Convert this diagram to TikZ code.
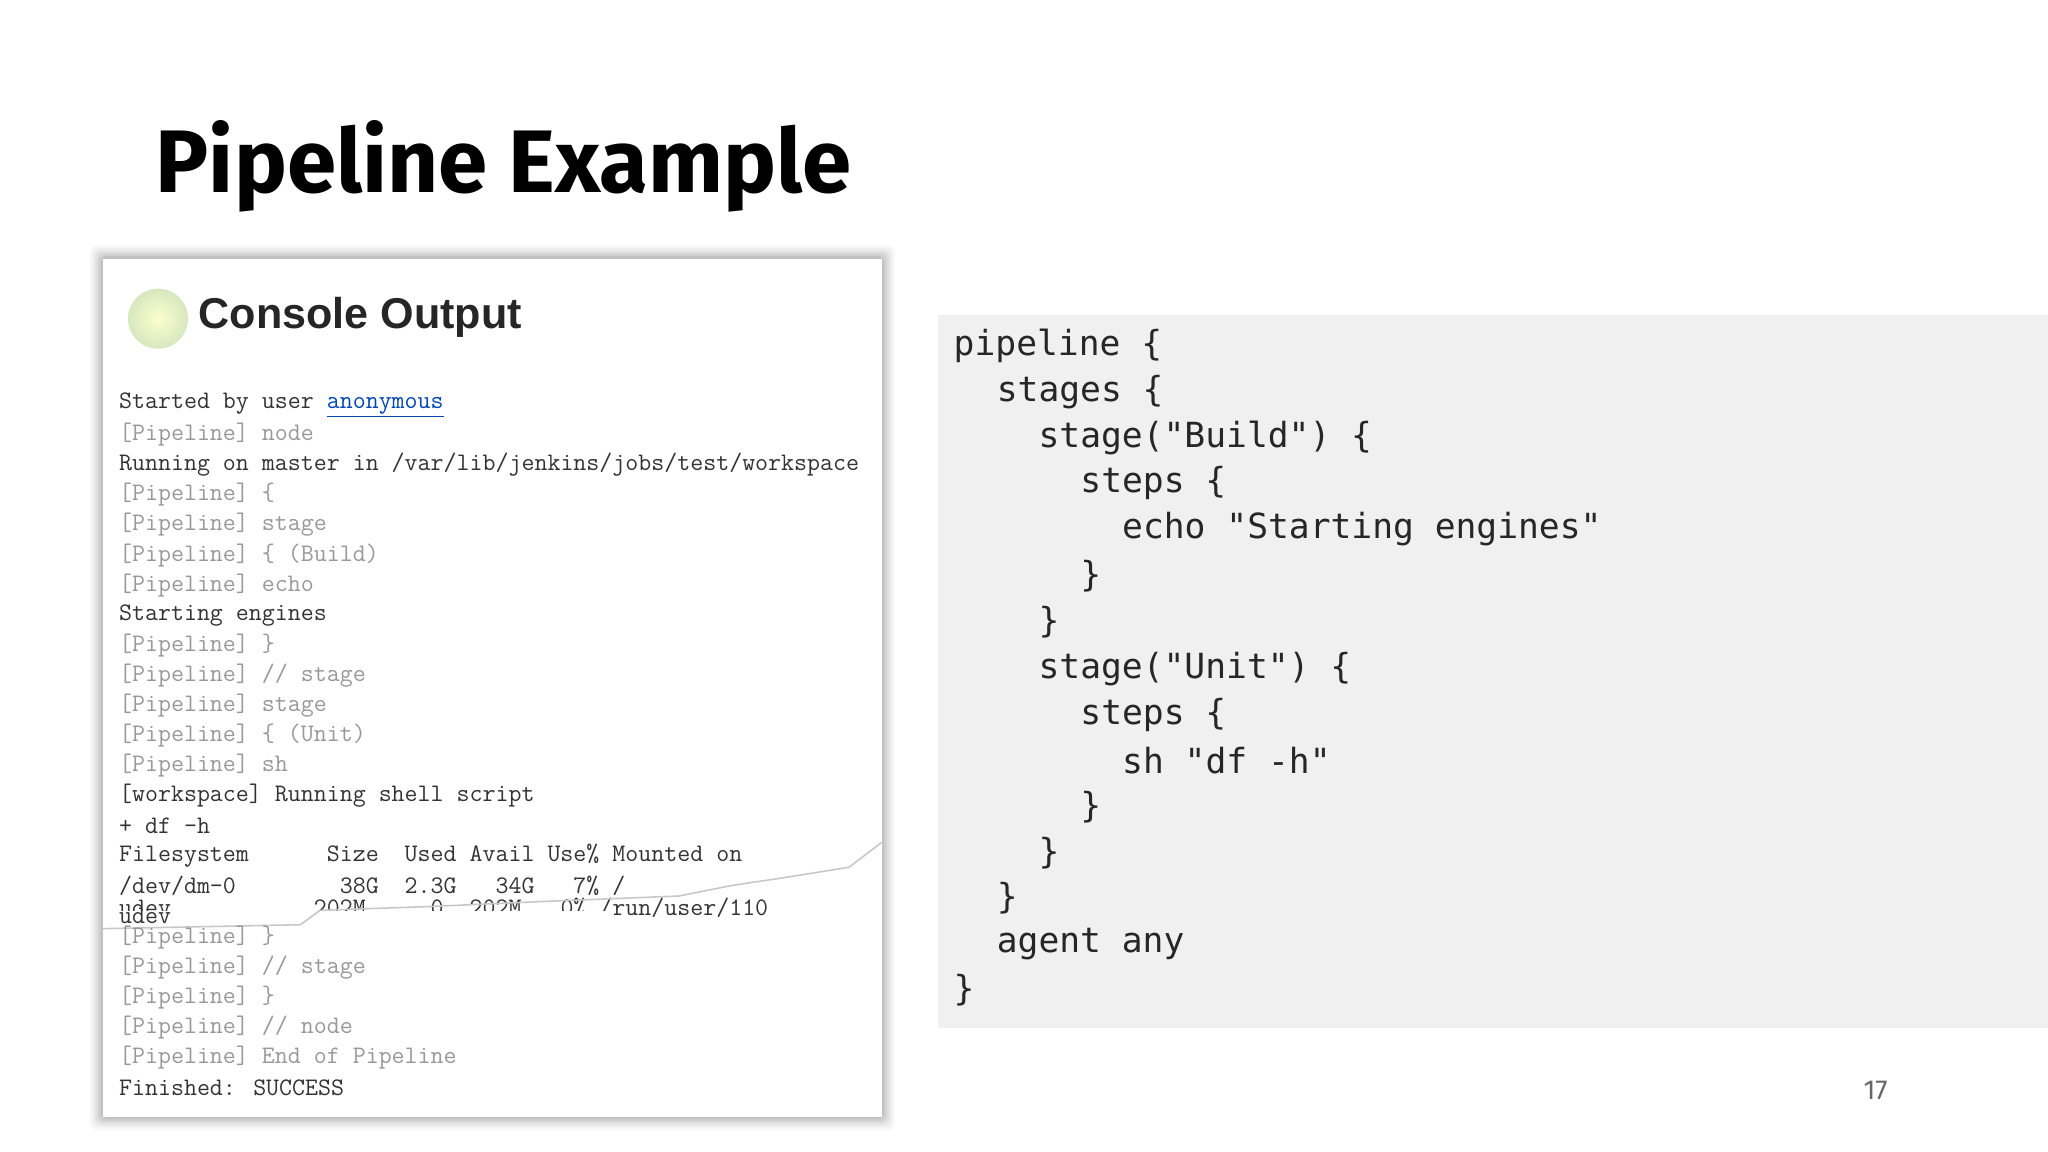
\documentclass[tikz,border=0pt]{standalone}
\usepackage{fontspec}
\setmainfont{Fira Sans}
\newfontfamily\codefont{DejaVu Sans Mono}
\newfontfamily\consans{Liberation Sans}
\begin{document}
\begin{tikzpicture}[x=1pt,y=-1pt,
  con/.style={anchor=west,inner sep=0pt,font=\ttfamily\fontsize{19.3}{20}\selectfont,text=black!80},
  cong/.style={con,text=black!40},
  code/.style={anchor=west,inner sep=0pt,font=\codefont\fontsize{26.5}{30}\selectfont,text=black!85}]
\useasboundingbox (0,0) rectangle (1568,882);
\fill[white] (0,0) rectangle (1568,882);
\node[anchor=west,inner sep=0pt,font=\fontsize{68}{74}\selectfont\bfseries] (title) at (119,127) {Pipeline Example};
% console panel with shadow
\foreach \i/\o in {10/0.03,8/0.04,6/0.05,4/0.06,2/0.08}{\fill[black,opacity=\o,rounded corners=5] (79-\i,198-\i) rectangle (675+\i,855+\i);}
\fill[white] (79,198) rectangle (675,855);
\shade[inner color=green!8!yellow!20,outer color=green!25!olive!25,draw=none] (121,244) circle (23) coordinate (ball);
\node[anchor=west,inner sep=0pt,font=\consans\bfseries\fontsize{33}{36}\selectfont,text=black!85] (hdr) at (152,243) {Console Output};
\node[con] (l1) at (91,310) {Started by user \textcolor{blue!60!cyan!70!black}{\underline{anonymous}}};
\node[cong] (l2) at (91,333) {[Pipeline] node};
\node[con] (l3) at (91,356) {Running on master in /var/lib/jenkins/jobs/test/workspace};
\node[cong] (l4) at (91,379) {[Pipeline] \{};
\node[cong] (l5) at (91,402) {[Pipeline] stage};
\node[cong] (l6) at (91,425) {[Pipeline] \{ (Build)};
\node[cong] (l7) at (91,448) {[Pipeline] echo};
\node[con] (l8) at (91,471) {Starting engines};
\node[cong] (l9) at (91,494) {[Pipeline] \}};
\node[cong] (l10) at (91,517) {[Pipeline] // stage};
\node[cong] (l11) at (91,540) {[Pipeline] stage};
\node[cong] (l12) at (91,563) {[Pipeline] \{ (Unit)};
\node[cong] (l13) at (91,586) {[Pipeline] sh};
\node[con] (l14) at (91,609) {[workspace] Running shell script};
\node[con] (l15) at (91,632) {+ df -h};
\node[con] (l16) at (91,655) {Filesystem\ \ \ \ \ \ Size\ \ Used Avail Use\% Mounted on};
\node[con] (l17) at (91,678) {/dev/dm-0\ \ \ \ \ \ \ \ 38G\ \ 2.3G\ \ \ 34G\ \ \ 7\% /};
\begin{scope}
\clip (0,0) rectangle (470,697) (470,0) rectangle (640,705);
\node[con] (l18b) at (91,695) {udev\ \ \ \ \ \ \ \ \ \ \ 202M\ \ \ \ \ 0\ \ 202M\ \ \ 0\% /run/user/110};
\end{scope}
\fill[white] (91,705) rectangle (240,712);
\node[con] (l18) at (91,701) {udev};
\draw[black!22,line width=1.2] (79,711) -- (230,708) -- (245,697) -- (330,694) -- (420,690) -- (520,686) -- (560,678) -- (600,672) -- (650,664) -- (675,645);
\node[cong] (l19) at (91,718) {[Pipeline] \}};
\node[cong] (l20) at (91,741) {[Pipeline] // stage};
\node[cong] (l21) at (91,764) {[Pipeline] \}};
\node[cong] (l22) at (91,787) {[Pipeline] // node};
\node[cong] (l23) at (91,810) {[Pipeline] End of Pipeline};
\node[con] (l24) at (91,833) {Finished: SUCCESS};
% code panel
\fill[black!6] (718,241) rectangle (1568,787);
\node[code] (c1) at (730,265) {pipeline \{};
\node[code] (c2) at (763,300) {stages \{};
\node[code] (c3) at (795,335) {stage("Build") \{};
\node[code] (c4) at (827,370) {steps \{};
\node[code] (c5) at (859,405) {echo "Starting engines"};
\node[code] (c6) at (827,441) {\}};
\node[code] (c7) at (795,476) {\}};
\node[code] (c8) at (795,512) {stage("Unit") \{};
\node[code] (c9) at (827,547) {steps \{};
\node[code] (c10) at (859,582) {sh "df -h"};
\node[code] (c11) at (827,618) {\}};
\node[code] (c12) at (795,653) {\}};
\node[code] (c13) at (763,688) {\}};
\node[code] (c14) at (763,723) {agent any};
\node[code] (c15) at (730,758) {\}};
\node[anchor=center,inner sep=0pt,font=\fontsize{21}{24}\selectfont,text=black!60] (pg) at (1436,835) {17};
\end{tikzpicture}
\end{document}
